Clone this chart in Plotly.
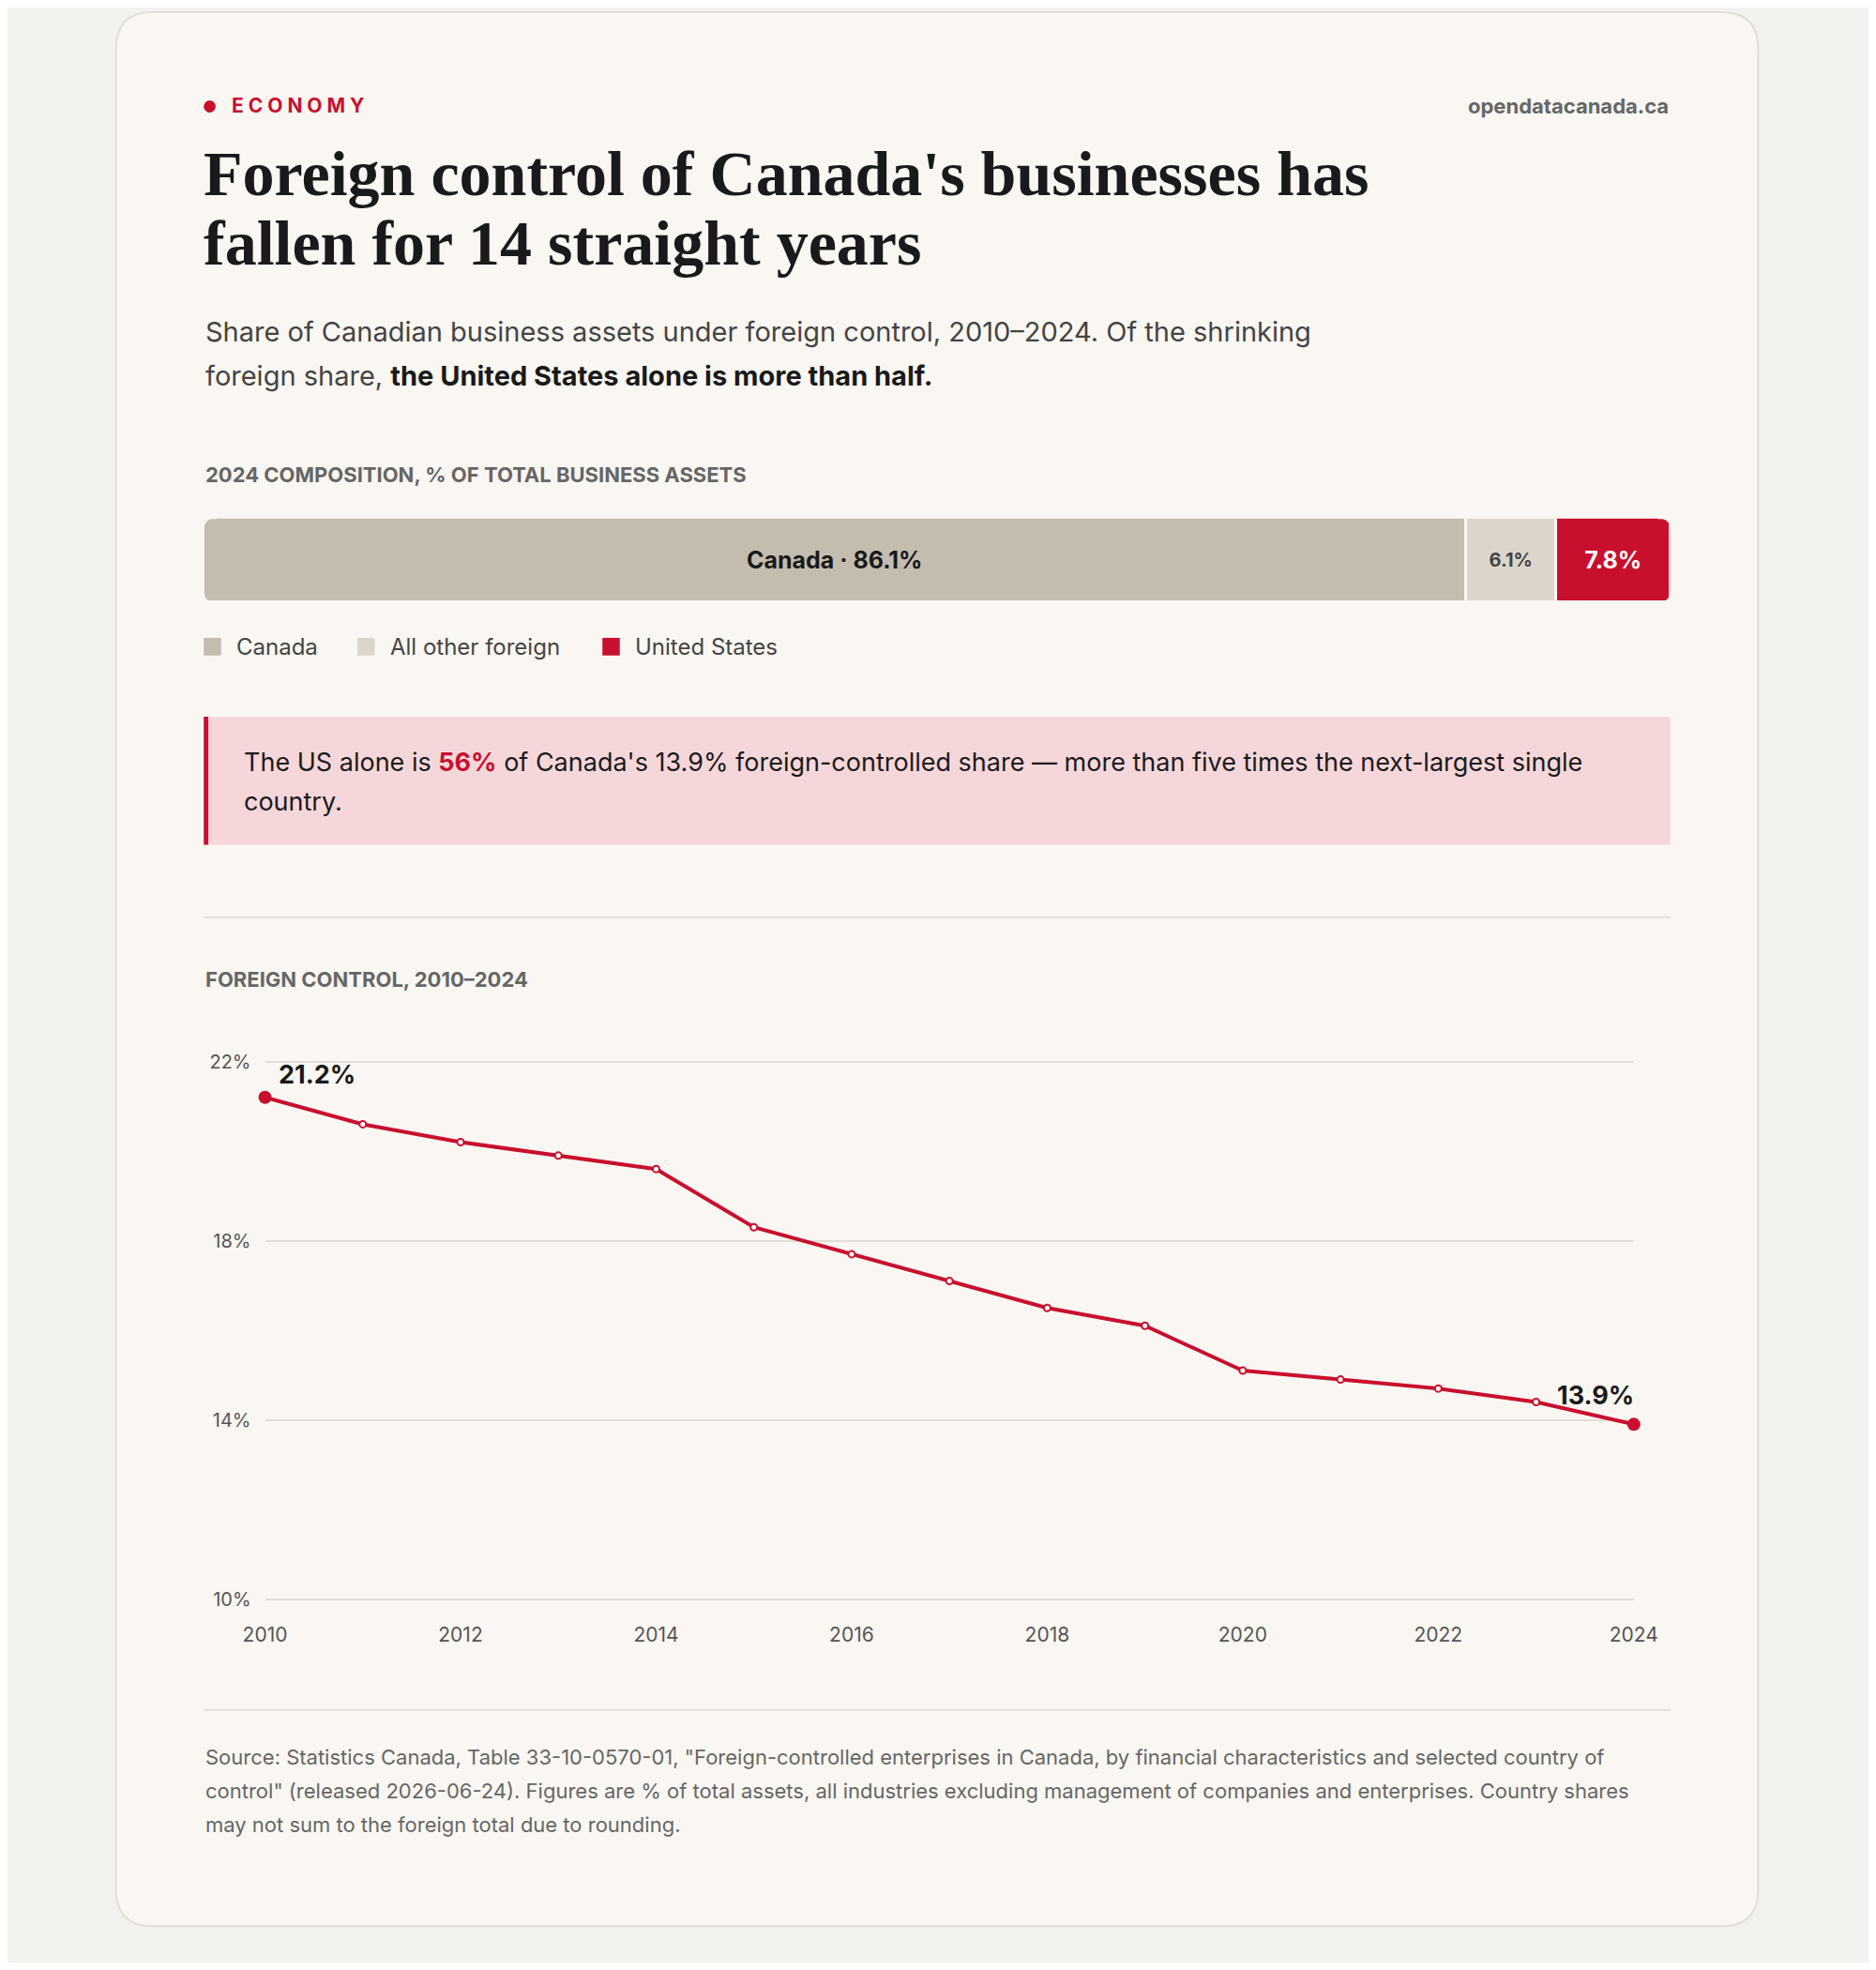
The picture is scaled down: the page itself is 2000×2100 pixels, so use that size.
import plotly.graph_objects as go

W, H = 1984, 2084

years = list(range(2010, 2025))
foreign_share = [21.2, 20.6, 20.2, 19.9, 19.6, 18.3, 17.7, 17.1, 16.5, 16.1, 15.1, 14.9, 14.7, 14.4, 13.9]

comp_names = ["Canada", "All other foreign", "United States"]
comp_values = [86.1, 6.1, 7.8]
comp_labels = ["Canada · 86.1%", "6.1%", "7.8%"]
comp_colors = ["#c4bcaf", "#dcd5cb", "#c8102e"]
comp_text_colors = ["#1a1a1a", "#444444", "#ffffff"]

RED = "#c8102e"
CARD = "#faf7f2"
SANS = "Inter, Noto Sans, sans-serif"


def px(x):
    return (x - 8) / W


def py(y):
    return 1 - (y - 8) / H


fig = go.Figure()

# composition bar
for name, v, lab, c, tc in zip(comp_names, comp_values, comp_labels, comp_colors, comp_text_colors):
    fig.add_trace(go.Bar(
        x=[v], y=["2024"], orientation="h", name=name, marker_color=c,
        marker_line=dict(color=CARD, width=3),
        text=[lab], textposition="inside", insidetextanchor="middle",
        textfont=dict(family=SANS, size=25 if name != "All other foreign" else 20, color=tc, weight="bold"),
        xaxis="x2", yaxis="y2", hoverinfo="skip", showlegend=False,
    ))

# line chart
fig.add_trace(go.Scatter(
    x=years, y=foreign_share, mode="lines+markers",
    line=dict(color=RED, width=4),
    marker=dict(size=[14] + [7] * (len(years) - 2) + [14], opacity=1,
                color=[RED] + ["#ffffff"] * (len(years) - 2) + [RED],
                line=dict(color=RED, width=[0] + [2] * (len(years) - 2) + [0])),
    showlegend=False, hoverinfo="skip", cliponaxis=False,
))

shapes = [
    # card
    dict(type="path", xref="paper", yref="paper", layer="below",
         path="M {0},{1} L {2},{1} Q {3},{1} {3},{4} L {3},{5} Q {3},{6} {2},{6} L {0},{6} Q {7},{6} {7},{5} L {7},{4} Q {7},{1} {0},{1} Z".format(
             px(142), py(2), px(1858), px(1898), py(42), py(2024), py(2064), px(102)),
         fillcolor=CARD, line=dict(color="#e2ddd6", width=2)),
    # callout
    dict(type="rect", xref="paper", yref="paper", x0=px(198), x1=px(1802), y0=py(761), y1=py(899),
         fillcolor="#f5d7da", line=dict(width=0), layer="below"),
    dict(type="rect", xref="paper", yref="paper", x0=px(198), x1=px(203), y0=py(761), y1=py(899),
         fillcolor=RED, line=dict(width=0), layer="below"),
    # dividers
    dict(type="line", xref="paper", yref="paper", x0=px(198), x1=px(1802), y0=py(977), y1=py(977),
         line=dict(color="#e2ddd6", width=2)),
    dict(type="line", xref="paper", yref="paper", x0=px(198), x1=px(1802), y0=py(1831), y1=py(1831),
         line=dict(color="#e2ddd6", width=2)),
    # economy dot
    dict(type="circle", xref="paper", yref="paper", x0=px(198), x1=px(211), y0=py(97), y1=py(110),
         fillcolor=RED, line=dict(width=0)),
]

# rounded-corner masks for the composition bar
bx0, bx1, by0, by1, r = 198, 1802, 547, 638, 14
for cx, cy, dx, dy in [(bx0, by0, 1, 1), (bx1, by0, -1, 1), (bx0, by1, 1, -1), (bx1, by1, -1, -1)]:
    shapes.append(dict(type="path", xref="paper", yref="paper", line=dict(width=0), fillcolor=CARD,
                       path="M {},{} Q {},{} {},{} L {},{} Z".format(
                           px(cx + dx * r), py(cy), px(cx), py(cy), px(cx), py(cy + dy * r),
                           px(cx - dx * 2), py(cy - dy * 2))))
    shapes.append(dict(type="rect", xref="paper", yref="paper", line=dict(width=0), fillcolor=CARD,
                       x0=px(cx - dx * 3), x1=px(cx + dx * r), y0=py(cy - dy * 3), y1=py(cy + dy * 1)))

# legend swatches
legend_x = [198, 366, 634]
for lx, c in zip(legend_x, comp_colors):
    shapes.append(dict(type="rect", xref="paper", yref="paper", x0=px(lx), x1=px(lx + 19),
                       y0=py(676), y1=py(695), fillcolor=c, line=dict(width=0)))

ann = []


def text(x, y, s, size, color="#1a1a1a", family=SANS, xanchor="left", weight=None):
    ann.append(dict(xref="paper", yref="paper", x=px(x), y=py(y), text=s, showarrow=False,
                    xanchor=xanchor, yanchor="middle", align="left",
                    font=dict(family=family, size=size, color=color, weight=weight)))


text(227, 103, "E C O N O M Y", 21, RED, weight="bold")
text(1802, 103, "opendatacanada.ca", 22, "#666666", xanchor="right", weight="bold")
text(196, 176, "Foreign control of Canada's businesses has", 68, "#1a1a1a", family="Liberation Serif", weight="bold")
text(196, 251, "fallen for 14 straight years", 68, "#1a1a1a", family="Liberation Serif", weight="bold")
text(198, 346, "Share of Canadian business assets under foreign control, 2010–2024. Of the shrinking", 29, "#444444")
text(198, 394, "foreign share, <b style='color:#1a1a1a'>the United States alone is more than half.</b>", 29, "#444444")
text(198, 500, "2024 COMPOSITION, % OF TOTAL BUSINESS ASSETS", 22, "#666666", weight="bold")
for lx, name in zip(legend_x, comp_names):
    text(lx + 34, 686, name, 24, "#444444")
text(240, 810, "The US alone is <b style='color:#c8102e'>56%</b> of Canada's 13.9% foreign-controlled share — more than five times the next-largest single", 27)
text(240, 852, "country.", 27)
text(198, 1044, "FOREIGN CONTROL, 2010–2024", 22, "#666666", weight="bold")
text(198, 1882, "Source: Statistics Canada, Table 33-10-0570-01, \"Foreign-controlled enterprises in Canada, by financial characteristics and selected country of", 22, "#666666")
text(198, 1918, "control\" (released 2026-06-24). Figures are % of total assets, all industries excluding management of companies and enterprises. Country shares", 22, "#666666")
text(198, 1955, "may not sum to the foreign total due to rounding.", 22, "#666666")

# end labels
ann.append(dict(x=years[0], y=foreign_share[0], xref="x", yref="y", text=f"{foreign_share[0]}%",
                showarrow=False, xanchor="left", yanchor="bottom", xshift=12, yshift=6,
                font=dict(family=SANS, size=27, color="#1a1a1a", weight="bold")))
ann.append(dict(x=years[-1], y=foreign_share[-1], xref="x", yref="y", text=f"{foreign_share[-1]}%",
                showarrow=False, xanchor="right", yanchor="bottom", xshift=2, yshift=12,
                font=dict(family=SANS, size=27, color="#1a1a1a", weight="bold")))

ytick_vals = [10, 14, 18, 22]
ytick_text = [f"{v}%" for v in ytick_vals]

fig.update_layout(
    width=W, height=H, margin=dict(l=0, r=0, t=0, b=0),
    paper_bgcolor="#f3f1ee", plot_bgcolor="rgba(0,0,0,0)",
    barmode="stack", bargap=0,
    shapes=shapes, annotations=ann,
    xaxis=dict(domain=[px(265), px(1762)], range=[2010, 2024], tickvals=list(range(2010, 2025, 2)),
               showgrid=False, zeroline=False, showline=False, ticks="", ticklabelstandoff=22,
               tickfont=dict(family=SANS, size=21, color="#555555")),
    yaxis=dict(domain=[py(1713), py(1131)], range=[9.97, 22.03], tickvals=ytick_vals, ticktext=ytick_text,
               gridcolor="#e2ddd6", gridwidth=2, zeroline=False, showline=False,
               ticks="", ticklabelstandoff=14, tickfont=dict(family=SANS, size=20, color="#555555")),
    xaxis2=dict(domain=[px(198), px(1802)], range=[0, 100], visible=False, anchor="y2"),
    yaxis2=dict(domain=[py(638), py(547)], visible=False, anchor="x2"),
)

fig.write_html("out.html")
